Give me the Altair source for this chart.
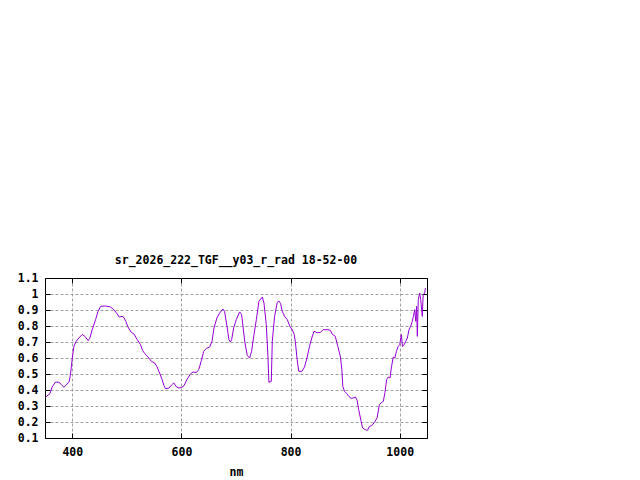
import altair as alt
import pandas as pd

wavelength_nm = [
    351, 359, 363, 369.5, 375.6, 379.8, 384.7, 390.8, 394.5, 397, 400, 403, 407, 412, 418, 420.5,
    425.5, 429, 432, 436.5, 442.7, 447, 452, 461, 470, 476, 482, 486, 491, 494, 498, 502, 508, 513,
    519, 525, 528.7, 533, 539, 545, 551, 555.4, 560, 564.6, 568, 571, 577, 581.8, 586, 591, 595.7,
    601, 604.8, 610, 616.5, 621, 627.5, 631.7, 636.6, 640.8, 645.8, 651.8, 656, 659.7, 665, 670,
    676, 679, 683.5, 687, 689.7, 692, 695.7, 700.6, 706.7, 710.3, 712.8, 716.4, 720.8, 725, 728.6,
    732.9, 737.3, 742, 748.3, 751.2, 755.5, 758.5, 760.3, 764.7, 766.5, 770.7, 775.6, 778.6, 781.7,
    784.7, 789, 794, 798.7, 803, 806.8, 809, 812, 815, 821, 825.6, 830, 834.7, 839.4, 843, 848.8,
    854.8, 859.7, 867, 873, 876.2, 882, 886.5, 891.4, 894, 895.7, 898.8, 903, 906.7, 911, 915,
    918.8, 922, 924.8, 929.3, 932, 937, 941, 944.5, 948.7, 953.6, 958.5, 962.7, 967, 970, 973, 976,
    979, 982.3, 985, 988.2, 991, 994, 997.3, 1000, 1003, 1005, 1008, 1011, 1014, 1017, 1020, 1023,
    1025, 1027.5, 1029.4, 1031, 1032.3, 1034, 1036.6, 1038.5, 1041.4, 1043, 1045.8, 1047,
]
radiance = [
    0.356, 0.377, 0.419, 0.45, 0.448, 0.435, 0.417, 0.438, 0.454, 0.506, 0.6, 0.673, 0.704, 0.725,
    0.746, 0.744, 0.725, 0.708, 0.723, 0.777, 0.84, 0.89, 0.923, 0.925, 0.919, 0.902, 0.877, 0.856,
    0.86, 0.856, 0.829, 0.794, 0.76, 0.75, 0.715, 0.683, 0.648, 0.627, 0.606, 0.579, 0.569, 0.544,
    0.506, 0.465, 0.427, 0.408, 0.412, 0.431, 0.444, 0.419, 0.412, 0.417, 0.427, 0.465, 0.5, 0.512,
    0.51, 0.527, 0.585, 0.642, 0.66, 0.669, 0.704, 0.788, 0.85, 0.881, 0.906, 0.892, 0.798, 0.715,
    0.7, 0.715, 0.788, 0.84, 0.888, 0.871, 0.798, 0.694, 0.615, 0.6, 0.642, 0.746, 0.84, 0.954,
    0.981, 0.944, 0.808, 0.61, 0.448, 0.454, 0.704, 0.86, 0.948, 0.956, 0.94, 0.892, 0.86, 0.84,
    0.798, 0.777, 0.746, 0.694, 0.59, 0.517, 0.517, 0.544, 0.6, 0.673, 0.731, 0.767, 0.758, 0.76,
    0.777, 0.777, 0.773, 0.75, 0.735, 0.673, 0.606, 0.527, 0.423, 0.392, 0.377, 0.36, 0.348, 0.35,
    0.356, 0.335, 0.277, 0.204, 0.163, 0.152, 0.148, 0.173, 0.177, 0.198, 0.225, 0.308, 0.323,
    0.329, 0.385, 0.465, 0.481, 0.475, 0.546, 0.606, 0.6, 0.642, 0.673, 0.683, 0.746, 0.673, 0.683,
    0.704, 0.725, 0.777, 0.798, 0.829, 0.86, 0.902, 0.829, 0.923, 0.735, 0.965, 1.006, 0.965, 0.86,
    0.996, 1.006, 1.037,
]
x_ticks = [400, 600, 800, 1000]
y_ticks = [0.1, 0.2, 0.3, 0.4, 0.5, 0.6, 0.7, 0.8, 0.9, 1.0, 1.1]
title_text = "sr_2026_222_TGF__y03_r_rad 18-52-00"
x_label = "nm"

df = pd.DataFrame({"nm": wavelength_nm, "rad": radiance})

FONT = "DejaVu Sans Mono"
TICK = 5
edge_test = "datum.value <= 0.1001 || datum.value >= 1.0999"

x_scale = alt.Scale(domain=[350, 1050], nice=False, zero=False)
y_scale = alt.Scale(domain=[0.1, 1.1], nice=False, zero=False)

main = (
    alt.Chart(df)
    .mark_line(color="#9400D3", strokeWidth=1, interpolate="linear")
    .encode(
        x=alt.X(
            "nm:Q",
            scale=x_scale,
            axis=alt.Axis(
                orient="bottom",
                values=x_ticks,
                title=x_label,
                format="d",
                grid=True,
                domain=False,
                offset=-TICK,
                tickSize=TICK,
                labelPadding=8,
                titlePadding=9,
            ),
        ),
        y=alt.Y(
            "rad:Q",
            scale=y_scale,
            axis=alt.Axis(
                orient="left",
                values=y_ticks,
                title=None,
                format="~g",
                grid=True,
                gridOpacity={"condition": {"test": edge_test, "value": 0}, "value": 1},
                domain=False,
                offset=-TICK,
                tickSize=TICK,
                labelPadding=7,
            ),
        ),
    )
)

mirror = (
    alt.Chart(df)
    .mark_point(opacity=0)
    .encode(
        x=alt.X(
            "nm:Q",
            scale=x_scale,
            axis=alt.Axis(
                orient="top",
                values=x_ticks,
                title=None,
                labels=False,
                grid=False,
                domain=False,
                offset=-TICK,
                tickSize=TICK,
            ),
        ),
        y=alt.Y(
            "rad:Q",
            scale=y_scale,
            axis=alt.Axis(
                orient="right",
                values=y_ticks,
                title=None,
                labels=False,
                grid=False,
                domain=False,
                offset=-TICK,
                tickSize=TICK,
            ),
        ),
    )
)

chart = (
    alt.layer(main, mirror)
    .resolve_axis(x="independent", y="independent")
    .properties(
        width=382,
        height=160,
        autosize="none",
        padding={"left": 37, "top": 270, "right": 10, "bottom": 40},
        title=alt.TitleParams(
            text=title_text,
            font=FONT,
            fontSize=11.5,
            fontWeight="bold",
            color="black",
            anchor="middle",
            offset=6,
        ),
    )
    .configure_view(stroke="black", strokeWidth=1)
    .configure_axis(
        labelFont=FONT,
        labelFontSize=11.5,
        labelFontWeight="bold",
        labelColor="black",
        titleFont=FONT,
        titleFontSize=11.5,
        titleFontWeight="bold",
        titleColor="black",
        tickColor="black",
        tickWidth=1,
        gridColor="#a0a0a0",
        gridDash=[3, 2],
        gridWidth=1,
    )
)

chart.save("out.html", embed_options={"renderer": "svg", "actions": False})
